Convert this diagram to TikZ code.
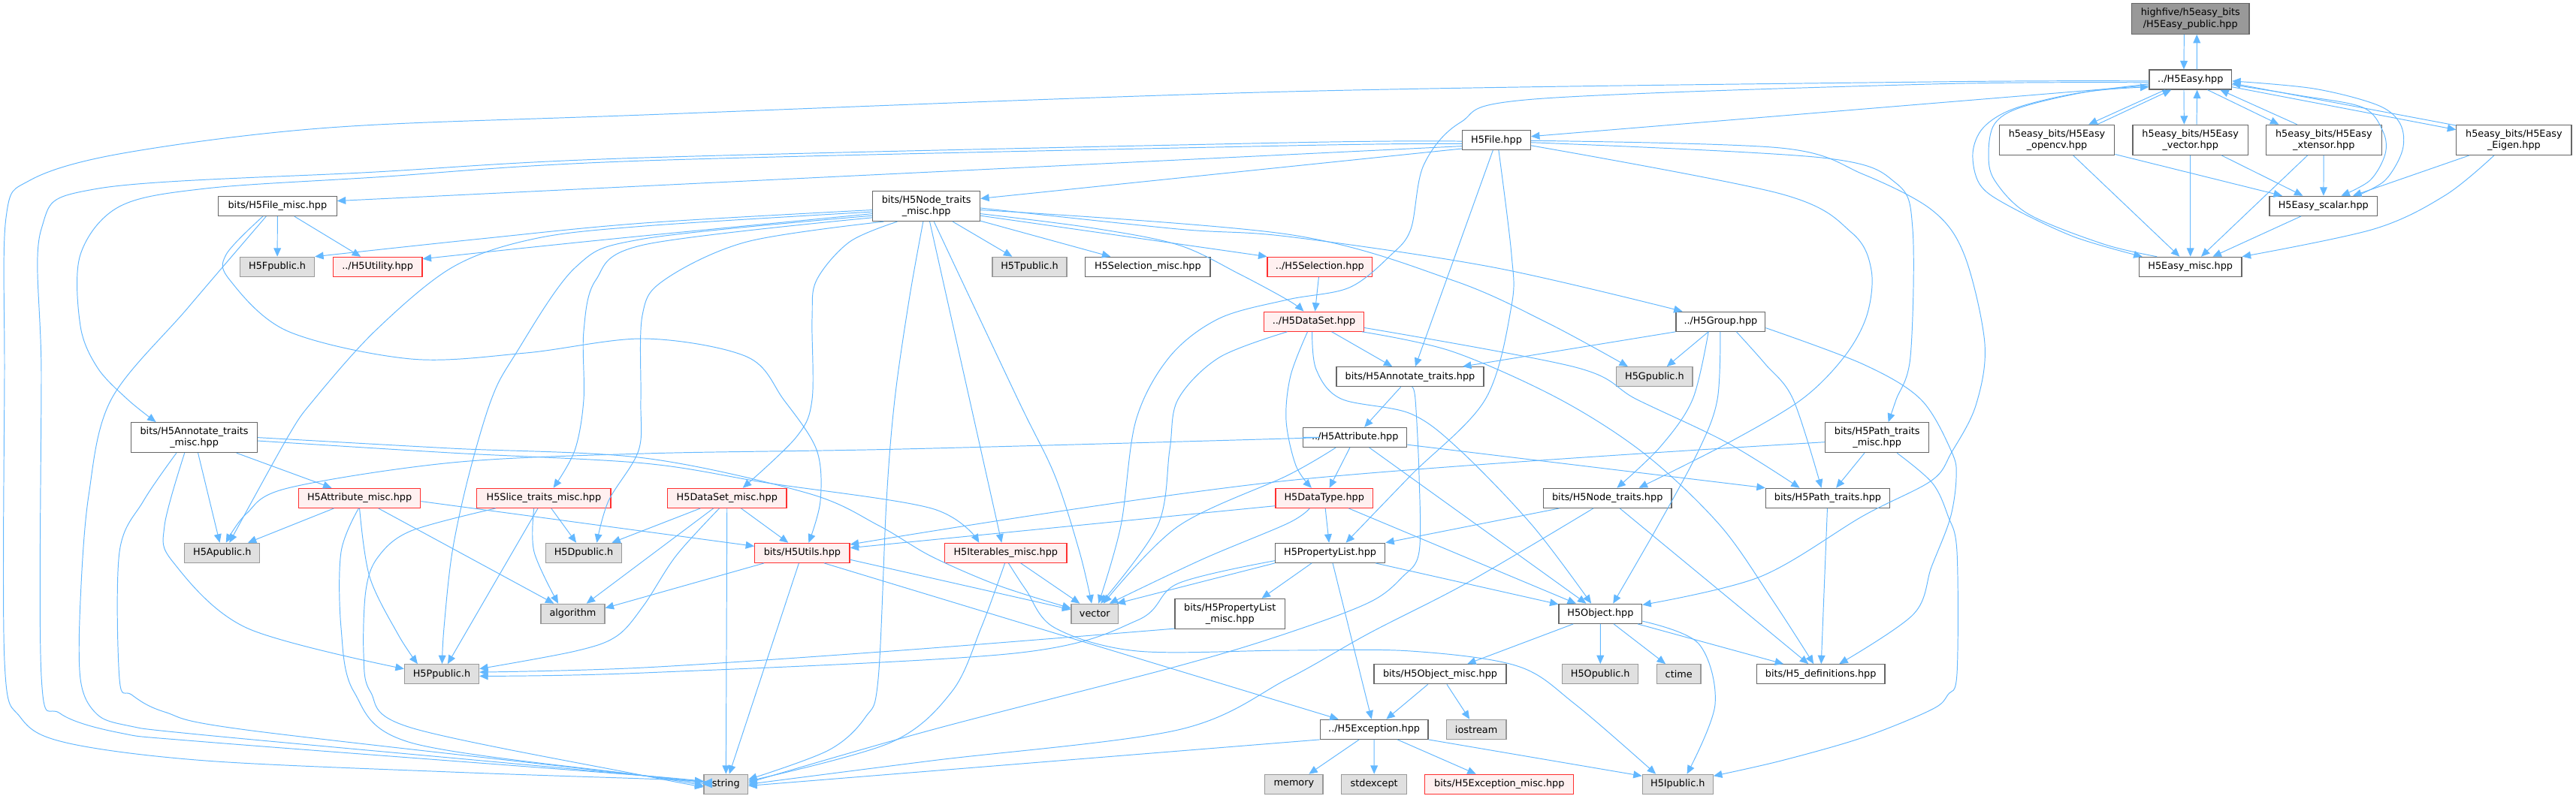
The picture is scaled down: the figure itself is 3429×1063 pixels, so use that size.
\documentclass[tikz,border=0pt]{standalone}
\usepackage{fontspec}
\setmainfont{DejaVu Sans}
\usetikzlibrary{arrows.meta}
\definecolor{edgec}{HTML}{63B8FF}
\definecolor{nborder}{HTML}{666666}
\definecolor{gborder}{HTML}{999999}
\definecolor{gfill}{HTML}{E0E0E0}
\definecolor{rfill}{HTML}{FFF0F0}
\definecolor{rborder}{HTML}{FF3030}
\definecolor{rootfill}{HTML}{999999}
\newcommand\nfont{\fontsize{7.3pt}{8.7pt}\selectfont}
\tikzset{
  nb/.style={draw=nborder, fill=white, line width=0.7pt, inner sep=0pt, align=center, font=\nfont, minimum height=0.52cm},
  gb/.style={nb, draw=gborder, fill=gfill},
  rb/.style={nb, draw=rborder, fill=rfill},
  root/.style={nb, draw=nborder, fill=rootfill},
  two/.style={minimum height=0.8cm},
  edg/.style={draw=edgec, line width=0.55pt, -{Triangle[length=6.5pt,width=5.6pt]}},
  cv/.style={smooth, tension=0.55}
}
\begin{document}
\begin{tikzpicture}[x=0.02cm, y=-0.02cm]
\useasboundingbox (0,0) rectangle (3429,1063);
\fill[white] (0,0) rectangle (3429,1063);

% ---------- nodes ----------
\node[root, minimum width=3.13cm, minimum height=0.81cm] (pub) at (2915.8,25.1) {highfive/h5easy\_bits\\/H5Easy\_public.hpp};
\node[nb, minimum width=2.19cm] (easy) at (2915.8,106) {../H5Easy.hpp};
\node[nb, two, minimum width=3.074cm] (opencv) at (2738,186.3) {h5easy\_bits/H5Easy\\\_opencv.hpp};
\node[nb, two, minimum width=3.066cm] (evec) at (2915.7,186.3) {h5easy\_bits/H5Easy\\\_vector.hpp};
\node[nb, two, minimum width=3.076cm] (xtensor) at (3093.3,186.3) {h5easy\_bits/H5Easy\\\_xtensor.hpp};
\node[nb, two, minimum width=3.064cm] (eigen) at (3346.4,186.3) {h5easy\_bits/H5Easy\\\_Eigen.hpp};
\node[nb, minimum width=1.816cm] (file) at (1992,186.5) {H5File.hpp};
\node[nb, minimum width=3.152cm] (filemisc) at (369.4,274.5) {bits/H5File\_misc.hpp};
\node[nb, two, minimum width=2.856cm] (ntm) at (1233.2,274.5) {bits/H5Node\_traits\\\_misc.hpp};
\node[nb, minimum width=2.878cm] (scalar) at (3092.8,274.3) {H5Easy\_scalar.hpp};
\node[gb, minimum width=1.98cm] (fpub) at (369.1,355.3) {H5Fpublic.h};
\node[rb, minimum width=2.376cm] (util) at (502.6,355.3) {../H5Utility.hpp};
\node[gb, minimum width=1.98cm] (tpub) at (1370.5,355.3) {H5Tpublic.h};
\node[nb, minimum width=3.326cm] (selmisc) at (1527.9,355.3) {H5Selection\_misc.hpp};
\node[rb, minimum width=2.794cm] (sel) at (1756.9,355.3) {../H5Selection.hpp};
\node[nb, minimum width=2.734cm] (emisc) at (2915.7,355.3) {H5Easy\_misc.hpp};
\node[rb, minimum width=2.65cm] (dset) at (1749,428.2) {../H5DataSet.hpp};
\node[nb, minimum width=2.376cm] (group) at (2290.4,428.2) {../H5Group.hpp};
\node[nb, minimum width=3.92cm] (annot) at (1877,501.7) {bits/H5Annotate\_traits.hpp};
\node[gb, minimum width=2.024cm] (gpub) at (2202.4,501.7) {H5Gpublic.h};
\node[nb, two, minimum width=3.358cm] (annotmisc) at (258.6,582.6) {bits/H5Annotate\_traits\\\_misc.hpp};
\node[nb, minimum width=2.758cm] (attr) at (1803.8,582.4) {../H5Attribute.hpp};
\node[nb, two, minimum width=2.758cm] (ptmisc) at (2498.7,582.6) {bits/H5Path\_traits\\\_misc.hpp};
\node[rb, minimum width=3.25cm] (attrmisc) at (478.6,663.3) {H5Attribute\_misc.hpp};
\node[rb, minimum width=3.568cm] (slicemisc) at (723.9,663.3) {H5Slice\_traits\_misc.hpp};
\node[rb, minimum width=3.164cm] (dsetmisc) at (967.8,663.3) {H5DataSet\_misc.hpp};
\node[rb, minimum width=2.586cm] (dtype) at (1762.7,663.3) {H5DataType.hpp};
\node[nb, minimum width=3.412cm] (nt) at (2139.7,663.3) {bits/H5Node\_traits.hpp};
\node[nb, minimum width=3.304cm] (pt) at (2433,663.3) {bits/H5Path\_traits.hpp};
\node[gb, minimum width=2.002cm] (apub) at (295.8,736.3) {H5Apublic.h};
\node[gb, minimum width=2.014cm] (dpub) at (777,736.3) {H5Dpublic.h};
\node[rb, minimum width=2.528cm] (utils) at (1067.9,736.3) {bits/H5Utils.hpp};
\node[rb, minimum width=3.25cm] (itermisc) at (1338.8,736.3) {H5Iterables\_misc.hpp};
\node[nb, minimum width=2.924cm] (plist) at (1770.6,736.3) {H5PropertyList.hpp};
\node[gb, minimum width=1.70cm] (algo) at (762.5,817.3) {algorithm};
\node[gb, minimum width=1.25cm] (vector) at (1457.3,817.3) {vector};
\node[nb, minimum width=2.214cm] (obj) at (2130.4,817.3) {H5Object.hpp};
\node[nb, two, minimum width=2.932cm] (plmisc) at (1637.3,817.3) {bits/H5PropertyList\\\_misc.hpp};
\node[gb, minimum width=1.982cm] (ppub) at (588,897.7) {H5Ppublic.h};
\node[nb, minimum width=3.52cm] (objmisc) at (1917,897.7) {bits/H5Object\_misc.hpp};
\node[gb, minimum width=2.026cm] (opub) at (2130.2,897.7) {H5Opublic.h};
\node[gb, minimum width=1.172cm] (ctime) at (2234.7,897.7) {ctime};
\node[nb, minimum width=3.412cm] (defs) at (2423.7,897.7) {bits/H5\_definitions.hpp};
\node[nb, minimum width=2.876cm] (exc) at (1829.1,971.3) {../H5Exception.hpp};
\node[gb, minimum width=1.596cm] (iostream) at (1965.1,971.3) {iostream};
\node[gb, minimum width=1.17cm] (string) at (966.3,1044.3) {string};
\node[gb, minimum width=1.544cm] (memory) at (1722.4,1044.3) {memory};
\node[gb, minimum width=1.74cm] (stdexcept) at (1829.2,1044.3) {stdexcept};
\node[rb, minimum width=3.96cm] (excmisc) at (1995.8,1044.3) {bits/H5Exception\_misc.hpp};
\node[gb, minimum width=1.882cm] (ipub) at (2233.3,1044.3) {H5Ipublic.h};

% ---------- H5Easy cluster ----------
\draw[edg] (pub.-112) -- (easy.123);
\draw[edg] (easy.58) -- (pub.-68);
\draw[edg] (easy.-158) -- (opencv.26);
\draw[edg] (opencv.21) -- (easy.-152);
\draw[edg] (easy.-123) -- (evec.112);
\draw[edg] (evec.68) -- (easy.-57);
\draw[edg] (easy.-31) -- (xtensor.161);
\draw[edg] (xtensor.150) -- (easy.-19);
\draw[edg] (easy.-10) -- (eigen.170);
\draw[edg] (eigen.166) -- (easy.-5);
\draw[edg] plot[cv] coordinates {(easy.-7) (3060,127) (3145,143) (3172,175) (3175,205) (3155,240) (scalar.30)};
\draw[edg] plot[cv] coordinates {(scalar.17) (3175,240) (3198,200) (3195,165) (3165,140) (3080,118) (easy.-2)};
\draw[edg] plot[cv] coordinates {(easy.-174) (2760,125) (2680,145) (2640,170) (2626,204) (2635,245) (2670,272) (2760,315) (emisc.168)};
\draw[edg] plot[cv] coordinates {(emisc.163) (2800,325) (2700,285) (2655,240) (2647,204) (2655,165) (2690,143) (2780,122) (easy.-170)};
\draw[edg] (opencv) -- (emisc);
\draw[edg] (opencv) -- (scalar);
\draw[edg] (evec) -- (emisc);
\draw[edg] (evec) -- (scalar);
\draw[edg] (xtensor) -- (scalar);
\draw[edg] (xtensor) -- (emisc);
\draw[edg] (eigen) -- (scalar);
\draw[edg] plot[cv] coordinates {(eigen.-142) (3255,260) (3160,305) (emisc.north east)};
\draw[edg] (scalar) -- (emisc);
\draw[edg] (easy.-172) -- (file.6);
\draw[edg] plot[cv] coordinates {(easy.-178) (2571,109) (1714,122) (857,153) (438,170) (164,204) (40,240) (8,290) (6,500) (6,880) (27,955) (88,989) (274,1013) (600,1028) (858,1037) (string.172)};
\draw[edg] plot[cv] coordinates {(easy.-176) (2571,112) (2042,132) (1944,163) (1895,220) (1878,305) (1851,340) (1796,383) (1714,399) (1623,424) (1557,475) (1512,560) (1492,700) (vector.70)};

% ---------- H5File ----------
\draw[edg] plot[cv] coordinates {(file.-178) (1714,190) (857,210) (500,229) (131,251) (55,305) (55,500) (55,900) (80,950) (160,976) (274,988) (858,1033) (string.175)};
\draw[edg] plot[cv] coordinates {(file.-174) (1714,194) (857,214) (500,236) (274,251) (159,275) (107,339) (107,434) (130,490) (170,532) (annotmisc.158)};
\draw[edg] (file.-170) -- (filemisc.5);
\draw[edg] (file.-166) -- (ntm.8);
\draw[edg] plot[cv] coordinates {(file.-1) (2370,197) (2480,232) (2572,280) (2615,340) (2642,458) (2630,540) (2598,602) (2571,640) (2480,687) (2343,768) (obj.12)};
\draw[edg] plot[cv] coordinates {(file.-4) (2425,210) (2524,244) (2546,305) (2543,475) (2524,532) (ptmisc.54)};
\draw[edg] plot[cv] coordinates {(file.-9) (2370,258) (2465,310) (2491,360) (2485,420) (2455,475) (2398,532) (2300,590) (nt.18)};
\draw[edg] (file.-109) -- (annot.63);
\draw[edg] plot[cv] coordinates {(file.-78) (2012,339) (2012,407) (1977,532) (1878,633) (plist.33)};

% ---------- bits/H5Node_traits_misc ----------
\draw[edg] plot[cv] coordinates {(ntm.-176) (857,297) (640,318) (fpub.north east)};
\draw[edg] plot[cv] coordinates {(ntm.-172) (857,314) (700,330) (util.10)};
\draw[edg] plot[cv] coordinates {(ntm.-174) (858,301) (711,318) (602,356) (500,440) (418,532) (383,582) (apub.55)};
\draw[edg] plot[cv] coordinates {(ntm.-170) (857,318) (766,356) (684,475) (654,532) (624,633) (602,735) (591,836) (ppub.88)};
\draw[edg] plot[cv] coordinates {(ntm.-168) (857,326) (793,373) (777,441) (777,532) (765,600) (slicemisc.47)};
\draw[edg] plot[cv] coordinates {(ntm.-160) (994,322) (884,373) (855,420) (853,532) (850,600) (810,667) (dpub.38)};
\draw[edg] (ntm) -- (tpub);
\draw[edg] (ntm) -- (selmisc);
\draw[edg] (ntm.-10) -- (sel.north west);
\draw[edg] plot[cv] coordinates {(ntm.-2) (1568,305) (1714,315) (1988,356) (group.165)};
\draw[edg] plot[cv] coordinates {(ntm.-4) (1714,312) (1933,373) (2060,430) (gpub.159)};
\draw[edg] plot[cv] coordinates {(ntm.-8) (1450,303) (1568,326) (1650,365) (1715,400) (dset.135)};
\draw[edg] plot[cv] coordinates {(ntm.-152) (1131,322) (1087,373) (1081,424) (1081,532) (1060,582) (dsetmisc.33)};
\draw[edg] plot[cv] coordinates {(ntm.-102) (1210,400) (1191,532) (1180,667) (1169,904) (1152,955) (1103,999) (string.12)};
\draw[edg] (ntm.-78) -- (itermisc.112);
\draw[edg] plot[cv] coordinates {(ntm.-64) (1355,532) (1404,633) (1437,735) (vector.107)};

% ---------- bits/H5File_misc ----------
\draw[edg] (filemisc) -- (fpub);
\draw[edg] (filemisc) -- (util);
\draw[edg] plot[cv] coordinates {(filemisc.-145) (301,339) (306,373) (383,441) (547,478) (700,470) (858,451) (994,475) (1043,532) (1087,599) (1092,667) (utils.58)};
\draw[edg] plot[cv] coordinates {(filemisc.-138) (250,410) (148,532) (118,660) (107,800) (107,904) (126,948) (164,965) (274,979) (858,1033) (string.178)};

% ---------- bits/H5Annotate_traits_misc ----------
\draw[edg] (annotmisc) -- (apub);
\draw[edg] (annotmisc) -- (attrmisc);
\draw[edg] plot[cv] coordinates {(annotmisc.-122) (219,700) (230,748) (328,836) (ppub.172)};
\draw[edg] plot[cv] coordinates {(annotmisc.-139) (191,667) (159,735) (159,904) (175,925) (219,948) (328,972) (858,1033) (string.181)};
\draw[edg] plot[cv] coordinates {(annotmisc.0) (600,597) (858,610) (1076,657) (1170,700) (1240,741) (1330,780) (vector.167)};
\draw[edg] plot[cv] coordinates {(annotmisc.-3) (600,603) (858,617) (1021,643) (1240,677) (itermisc.159)};

% ---------- H5Attribute_misc ----------
\draw[edg] (attrmisc) -- (apub);
\draw[edg] plot[cv] coordinates {(attrmisc.-90) (492,768) (530,845) (ppub.157)};
\draw[edg] (attrmisc) -- (algo);
\draw[edg] plot[cv] coordinates {(attrmisc.-95) (454,735) (454,836) (471,921) (547,989) (858,1033) (string.184)};
\draw[edg] (attrmisc.-3) -- (utils.172);

% ---------- H5Slice_traits_misc ----------
\draw[edg] (slicemisc) -- (dpub);
\draw[edg] (slicemisc) -- (ppub);
\draw[edg] plot[cv] coordinates {(slicemisc.-134) (711,735) (algo.145)};
\draw[edg] plot[cv] coordinates {(slicemisc.-168) (547,707) (503,742) (487,786) (484,870) (493,921) (547,969) (858,1033) (string.187)};

% ---------- H5DataSet_misc ----------
\draw[edg] (dsetmisc.-159) -- (dpub.20);
\draw[edg] (dsetmisc) -- (algo);
\draw[edg] plot[cv] coordinates {(dsetmisc.-127) (900,740) (857,806) (821,847) (766,867) (ppub.8)};
\draw[edg] (dsetmisc) -- (string);
\draw[edg] (dsetmisc) -- (utils);

% ---------- bits/H5Utils ----------
\draw[edg] (utils.-165) -- (algo.10);
\draw[edg] (utils.-8) -- (vector.170);
\draw[edg] (utils) -- (string);
\draw[edg] (utils.-25) -- (exc.164);

% ---------- H5Iterables_misc ----------
\draw[edg] (itermisc) -- (vector);
\draw[edg] plot[cv] coordinates {(itermisc.-95) (1306,836) (1267,921) (1185,989) (string.8)};
\draw[edg] plot[cv] coordinates {(itermisc.-75) (1366,786) (1404,836) (1514,867) (1715,866) (1878,867) (2020,887) (2097,938) (ipub.155)};

% ---------- PropertyList ----------
\draw[edg] plot[cv] coordinates {(plmisc.-165) (1200,866) (857,889) (ppub.3)};
\draw[edg] (plist.-151) -- (plmisc.26);
\draw[edg] (plist.south west) -- (vector.25);
\draw[edg] plot[cv] coordinates {(plist.-172) (1568,777) (1514,826) (1350,870) (857,896) (ppub.-3)};
\draw[edg] (plist) -- (obj);
\draw[edg] (plist) -- (exc);

% ---------- H5DataType ----------
\draw[edg] (dtype) -- (plist);
\draw[edg] (dtype) -- (obj);
\draw[edg] (dtype.-171) -- (utils.6);
\draw[edg] plot[cv] coordinates {(dtype.-145) (1714,697) (1600,745) (vector.35)};

% ---------- H5Attribute ----------
\draw[edg] (attr) -- (dtype);
\draw[edg] (attr) -- (obj);
\draw[edg] (attr.-8) -- (pt.north west);
\draw[edg] plot[cv] coordinates {(attr.-152) (1714,633) (1568,701) (vector.50)};
\draw[edg] plot[cv] coordinates {(attr.180) (1714,584) (1200,598) (857,604) (602,616) (383,650) (328,684) (apub.70)};

% ---------- Annotate traits ----------
\draw[edg] (annot) -- (attr);
\draw[edg] plot[cv] coordinates {(annot.-80) (1884,532) (1889,633) (1889,735) (1867,768) (1823,802) (1714,843) (1568,887) (1240,972) (string.4)};

% ---------- H5DataSet / Selection ----------
\draw[edg] (sel) -- (dset);
\draw[edg] (dset) -- (annot);
\draw[edg] plot[cv] coordinates {(dset.-7) (2097,489) (2179,532) (2300,590) (pt.160)};
\draw[edg] plot[cv] coordinates {(dset.-12) (1933,468) (2075,531) (2190,605) (2290,700) (2360,800) (defs.125)};
\draw[edg] plot[cv] coordinates {(dset.-100) (1752,492) (1785,531) (1878,551) (1944,600) (2040,700) (obj.132)};
\draw[edg] plot[cv] coordinates {(dset.-122) (1718,500) (1712,560) (1725,620) (dtype.141)};
\draw[edg] plot[cv] coordinates {(dset.-159) (1623,476) (1568,532) (1557,599) (1541,700) (vector.60)};

% ---------- H5Group ----------
\draw[edg] (group.south west) -- (annot.11);
\draw[edg] (group) -- (gpub);
\draw[edg] plot[cv] coordinates {(group.-140) (2253,532) (2210,595) (nt.47)};
\draw[edg] plot[cv] coordinates {(group.-92) (2286,532) (2261,600) (2207,700) (obj.39)};
\draw[edg] plot[cv] coordinates {(group.-33) (2350,485) (2387,532) (pt.122)};
\draw[edg] plot[cv] coordinates {(group.-8) (2480,485) (2557,532) (2598,602) (2604,636) (2596,690) (2571,755) (2547,818) (defs.29)};

% ---------- Path traits ----------
\draw[edg] (ptmisc) -- (pt);
\draw[edg] plot[cv] coordinates {(ptmisc.-175) (1714,640) (utils.10)};
\draw[edg] plot[cv] coordinates {(ptmisc.-38) (2572,643) (2593,687) (2605,735) (2605,897) (2593,925) (2571,945) (2480,982) (2371,1013) (ipub.13)};
\draw[edg] (pt) -- (defs);

% ---------- Node traits ----------
\draw[edg] (nt.-168) -- (plist.north east);
\draw[edg] plot[cv] coordinates {(nt.-144) (1955,775) (1823,843) (1714,904) (1568,972) (1240,1013) (string.0)};
\draw[edg] (nt) -- (defs);

% ---------- H5Object ----------
\draw[edg] (obj) -- (objmisc);
\draw[edg] (obj) -- (opub);
\draw[edg] (obj) -- (ctime);
\draw[edg] (obj) -- (defs);
\draw[edg] plot[cv] coordinates {(obj.-10) (2261,857) (2283,938) (ipub.48)};
\draw[edg] (objmisc) -- (exc);
\draw[edg] (objmisc) -- (iostream);

% ---------- H5Exception ----------
\draw[edg] (exc) -- (memory);
\draw[edg] (exc) -- (stdexcept);
\draw[edg] (exc) -- (excmisc);
\draw[edg] (exc.south east) -- (ipub.167);
\draw[edg] (exc.south west) -- (string.-4);
\end{tikzpicture}
\end{document}
